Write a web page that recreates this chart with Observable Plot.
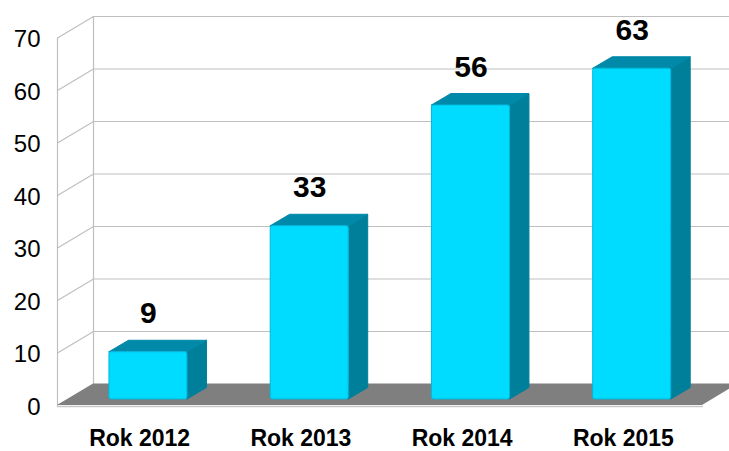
<!DOCTYPE html>
<html>
<head>
<meta charset="utf-8">
<script src="https://cdn.jsdelivr.net/npm/d3@7"></script>
<script src="https://cdn.jsdelivr.net/npm/@observablehq/plot@0.6"></script>
<style>
  html, body { margin: 0; padding: 0; background: #fff; overflow: hidden; }
</style>
</head>
<body>
<div id="chart"></div>
<script>
const categories = ["Rok 2012", "Rok 2013", "Rok 2014", "Rok 2015"];
const values = [9, 33, 56, 63];
const yTicks = [0, 10, 20, 30, 40, 50, 60, 70];

// 3D geometry (in scale units)
const DX = 0.2233, DY = 4.1;        // wall depth offset
const BX = 0.064, B = 1.14;         // bar front-face depth shift
const HW = 0.2419;                  // half bar width
const SDX = 0.121, SDY = 2.19;      // bar depth offset
const X0 = -0.5, X1 = 3.5;

const idx = categories.map((_, i) => i);

const grid = yTicks.filter(t => t > 0).flatMap(t => [
  {t, x: X0, y: t},
  {t, x: X0 + DX, y: t + DY},
  {t, x: X1 + DX + 0.2, y: t + DY}
]);

const floor = [
  {y: 0, x1: X0, x2: X1},
  {y: DY, x1: X0 + DX, x2: X1 + DX}
];

const sides = values.flatMap((v, i) => {
  const x2 = i + BX + HW;
  return [
    {i, x: x2, y1: B, y2: B + v},
    {i, x: x2 + SDX, y1: B + SDY, y2: B + v + SDY}
  ];
});
const tops = values.flatMap((v, i) => {
  const x1 = i + BX - HW, x2 = i + BX + HW;
  return [
    {i, y: B + v, x1, x2},
    {i, y: B + v + SDY, x1: x1 + SDX, x2: x2 + SDX}
  ];
});
const fronts = values.map((v, i) => ({i, x1: i + BX - HW, x2: i + BX + HW, y1: B, y2: B + v}));
const labels = values.map((v, i) => ({i, x: i + BX, y: B + v + SDY, v}));

const chart = Plot.plot({
  width: 729,
  height: 451,
  marginLeft: 57,
  marginRight: 27,
  marginTop: 37.5,
  marginBottom: 46,
  style: {fontFamily: "Liberation Sans, Arial, sans-serif", background: "#fff", overflow: "hidden"},
  x: {domain: [X0, X1], axis: null},
  y: {domain: [0, 70], axis: null},
  marks: [
    // gridlines (side wall + back wall)
    Plot.line(grid, {x: "x", y: "y", z: "t", stroke: "#bfbfbf", strokeWidth: 1.2}),
    // back wall vertical edge
    Plot.line([{x: X0 + DX, y: DY}, {x: X0 + DX, y: 70 + DY}], {x: "x", y: "y", stroke: "#bfbfbf", strokeWidth: 1.2}),
    // front-left axis edge
    Plot.line([{x: X0, y: 0}, {x: X0, y: 70}], {x: "x", y: "y", stroke: "#bfbfbf", strokeWidth: 1.2}),
    // floor
    Plot.areaX(floor, {y: "y", x1: "x1", x2: "x2", fill: "#7f7f7f"}),
    Plot.line([{x: X0, y: 0}, {x: X1, y: 0}], {x: "x", y: "y", stroke: "#c8c8c8", strokeWidth: 1.5, dy: 1}),
    // bars
    Plot.areaY(sides, {x: "x", y1: "y1", y2: "y2", z: "i", fill: "#007f9b", stroke: "#007f9b", strokeWidth: 1}),
    Plot.areaX(tops, {y: "y", x1: "x1", x2: "x2", z: "i", fill: "#0089a8", stroke: "#0089a8", strokeWidth: 1}),
    Plot.rect(fronts, {x1: "x1", x2: "x2", y1: "y1", y2: "y2", fill: "#00dcff", stroke: "#00b8dc", strokeWidth: 1, rx: 2}),
    // value labels
    Plot.text(labels, {x: "x", y: "y", text: d => String(d.v), dy: -27, fontSize: 30, fontWeight: "bold", fill: "#000"}),
    // y tick labels
    Plot.text(yTicks, {x: X0, y: d => d, text: d => String(d), textAnchor: "end", dx: -17, dy: 1.5, fontSize: 24, fill: "#000"}),
    // category labels
    Plot.text(idx, {x: d => d, y: 0, text: d => categories[d], dx: 1.5, dy: 33, fontSize: 23, fontWeight: "bold", fill: "#000"})
  ]
});
document.getElementById("chart").appendChild(chart);
</script>
</body>
</html>
